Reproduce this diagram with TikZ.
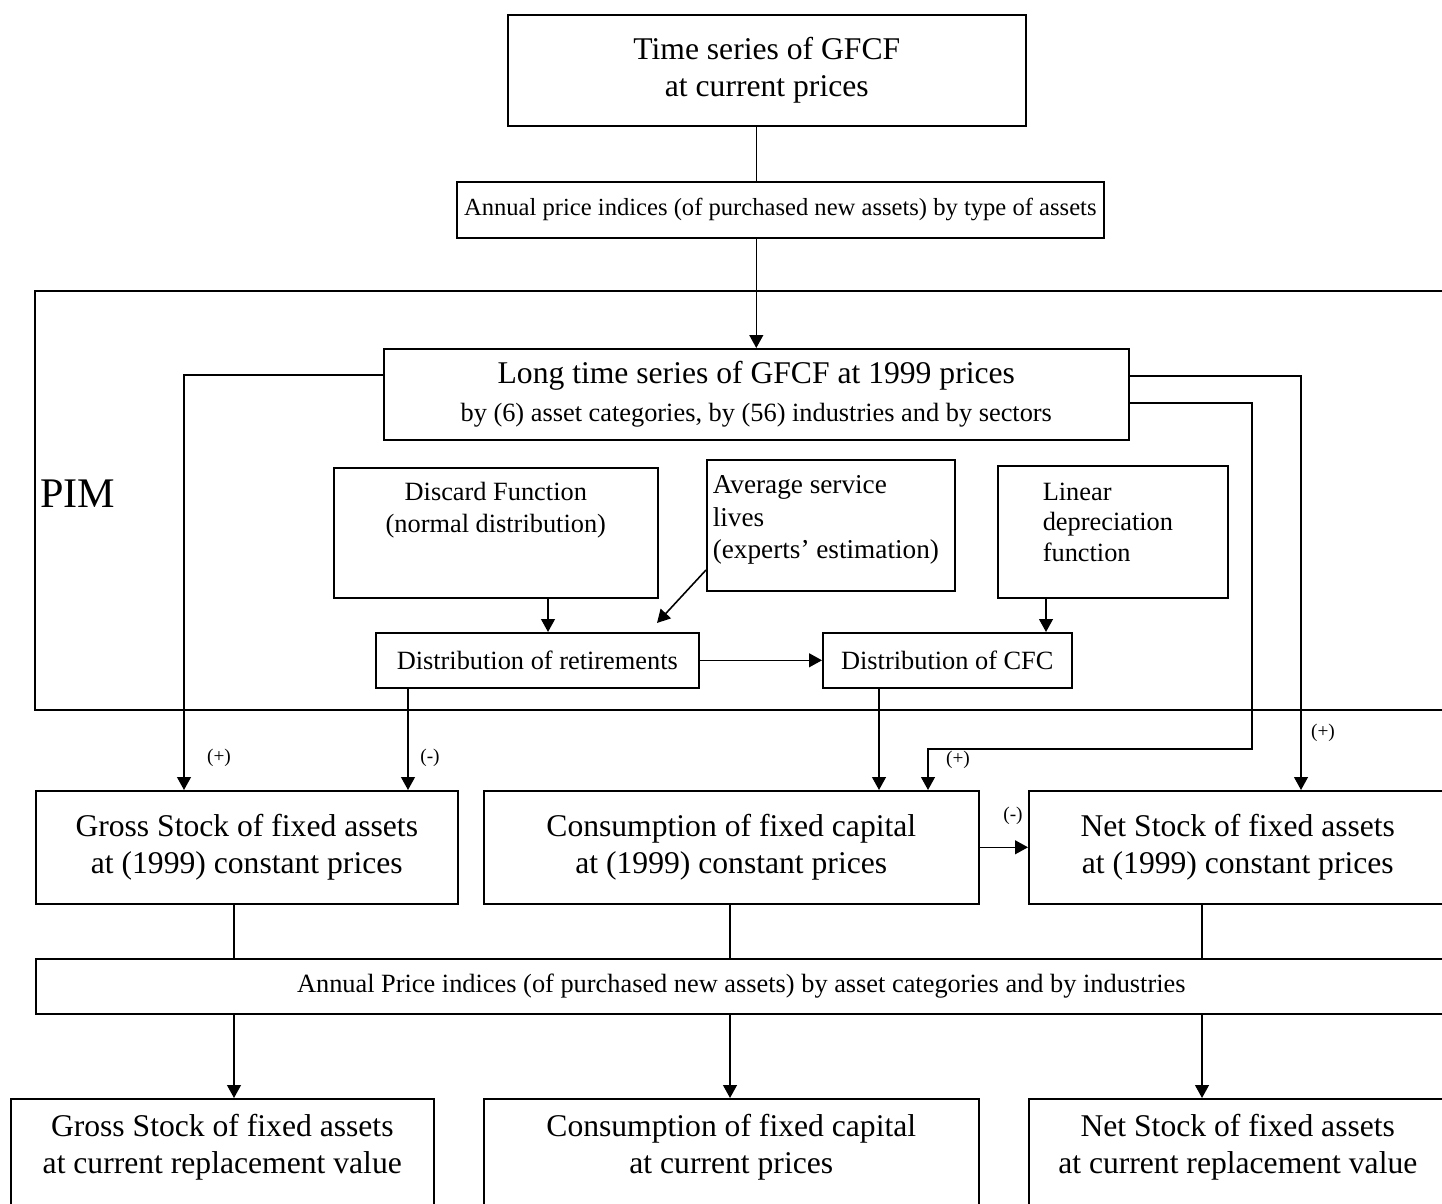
\documentclass[tikz,border=0pt]{standalone}
\usepackage{fontspec}
\setmainfont{Liberation Serif}
\usetikzlibrary{arrows.meta}
\newlength\pxu
\setlength\pxu{0.02cm}

\begin{document}
\begin{tikzpicture}[x=0.02cm,y=-0.02cm,line width=0.9pt,>={Triangle[length=7.4pt,width=7.9pt]},
  box/.style={draw,inner sep=0pt,anchor=north west,align=center},
  wh/.style 2 args={minimum width=#1*\pxu,minimum height=#2*\pxu},
  big/.style={font=\fontsize{18}{21.3}\selectfont},
  mid/.style={font=\fontsize{15}{17.8}\selectfont},
  sign/.style={font=\fontsize{11}{13}\selectfont,inner sep=0pt}]
\clip (0,0) rectangle (1442,1203);
\node[box,big,wh={518}{111}] (series) at (507,14) {Time series of GFCF\\at current prices};
\node[box,font=\fontsize{14}{17}\selectfont,wh={647}{56}] (indexa) at (456,181) {Annual price indices (of purchased new assets) by type of assets};
\draw (35,291) rectangle (1460,710);
\node[font=\fontsize{24}{28}\selectfont,inner sep=0pt] (pim) at (78,494) {PIM};
\node[box,big,wh={745}{91}] (long) at (383,348) {Long time series of GFCF at 1999 prices\\{\fontsize{15}{17.8}\selectfont by (6) asset categories, by (56) industries and by sectors}};
\node[box,font=\fontsize{15}{18.7}\selectfont,inner ysep=14*\pxu] (discard) at (333,467) {\parbox[c][102\pxu][t]{324\pxu}{\centering Discard Function\\(normal distribution)}};
\node[box,font=\fontsize{15.5}{18.4}\selectfont,inner xsep=6*\pxu,inner ysep=16*\pxu] (lives) at (706,459) {\parbox[c][99\pxu][t]{236\pxu}{\raggedright Average service\\lives\\(experts' estimation)}};
\node[box,font=\fontsize{15}{17.5}\selectfont,inner xsep=45*\pxu,inner ysep=17*\pxu] (linear) at (997,465) {\parbox[c][98\pxu][t]{140\pxu}{\raggedright Linear\\depreciation\\function}};
\node[box,mid,wh={323}{55}] (retire) at (375,632) {Distribution of retirements};
\node[box,mid,wh={249}{55}] (cfc) at (822,632) {Distribution of CFC};
\coordinate (livesend) at (657,623);
\node[box,big,wh={422}{113}] (gross) at (35,790) {Gross Stock of fixed assets\\at (1999) constant prices};
\node[box,big,wh={495}{113}] (cons) at (483,790) {Consumption of fixed capital\\at (1999) constant prices};
\node[box,big,wh={418}{113}] (net) at (1028,790) {Net Stock of fixed assets\\at (1999) constant prices};
\node[box,mid,wh={1411}{55}] (indexb) at (35,958) {Annual Price indices (of purchased new assets) by asset categories and by industries};
\node[box,big,inner ysep=15*\pxu] (gross2) at (10,1098) {\parbox[c][100\pxu][t]{423\pxu}{\centering Gross Stock of fixed assets\\at current replacement value}};
\node[box,big,inner ysep=15*\pxu] (cons2) at (483,1098) {\parbox[c][100\pxu][t]{495\pxu}{\centering Consumption of fixed capital\\at current prices}};
\node[box,big,inner ysep=15*\pxu] (net2) at (1028,1098) {\parbox[c][100\pxu][t]{418\pxu}{\centering Net Stock of fixed assets\\at current replacement value}};
\node[sign] (pgross) at (219,758) {(+)};
\node[sign] (mgross) at (430,758) {(-)};
\node[sign] (pcons) at (958,760) {(+)};
\node[sign] (mnet) at (1013,816) {(-)};
\node[sign] (pnet) at (1323,733) {(+)};

\draw (series.south -| long.north) -- (indexa.north -| long.north);
\draw[->] (indexa.south -| long.north) -- (long.north);
\draw[->] (long.west |- 0,375) -| (gross.north -| 184,0);
\draw[->] (long.east |- 0,376) -| (net.north -| 1301,0);
\draw[->] (long.east |- 0,403) -| (1252,749) -| (cons.north -| 928,0);
\draw[->] (discard.south -| 548,0) -- (retire.north -| 548,0);
\draw[->] (lives.west |- 0,570) -- (livesend);
\draw[->] (linear.south -| 1046,0) -- (cfc.north -| 1046,0);
\draw[->] (retire.east) -- (cfc.west);
\draw[->] (retire.south -| 408,0) -- (gross.north -| 408,0);
\draw[->] (cfc.south -| 879,0) -- (cons.north -| 879,0);
\draw[->] (cons.east) -- (net.west);
\foreach \nm/\x in {gross/234,cons/730,net/1202} {
  \draw (\nm.south -| \x,0) -- (indexb.north -| \x,0);
  \draw[->] (indexb.south -| \x,0) -- (\nm2.north -| \x,0);
}
\end{tikzpicture}
\end{document}
